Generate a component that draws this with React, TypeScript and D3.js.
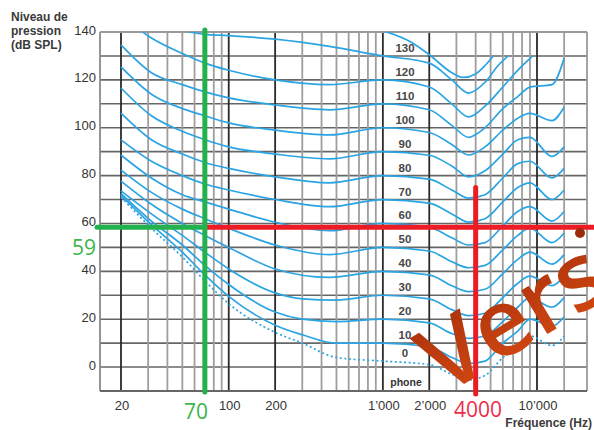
import React from 'react';
import * as d3 from 'd3';

const W = 594;
const H = 430;

// Frequency grid (Hz)
const majorFreqs = [20, 100, 200, 1000, 2000, 10000];
const minorFreqs = [30, 40, 50, 60, 70, 80, 90, 300, 400, 500, 600, 700, 800, 900, 3000, 4000, 5000, 6000, 7000, 8000, 9000, 15000];
const freqTickValues = [20, 100, 200, 1000, 2000, 10000];
const freqTickLabels = ['20', '100', '200', '1’000', '2’000', '10’000'];

// Level grid (dB SPL)
const levelGrid = [-10, 0, 10, 20, 30, 40, 50, 60, 70, 80, 90, 100, 110, 120, 130, 140];
const levelTickValues = [0, 20, 40, 60, 80, 100, 120, 140];

// Equal-loudness contours: [frequency Hz, level dB SPL]
type Pt = [number, number];
const threshold: Pt[] = [[20, 71], [31.5, 58], [50, 46], [70, 36], [100, 26.5], [200, 14.5], [300, 10], [500, 4], [1000, 2.5], [2000, 1], [2800, -3], [3600, -5.4], [4600, -3.5], [6000, 4], [7500, 9], [9000, 13], [12500, 9], [15000, 13]];
const phon10: Pt[] = [[20, 71.8], [31.5, 59.5], [50, 48], [70, 38.5], [100, 29.5], [200, 17.5], [300, 13.5], [500, 10], [1000, 10], [2000, 8.5], [2800, 4], [3600, 1.5], [4600, 2.5], [6000, 10], [7500, 15], [9000, 20], [12500, 17], [15000, 21]];
const phon20: Pt[] = [[20, 72.5], [31.5, 61], [50, 51], [70, 42.5], [100, 34.5], [200, 23], [300, 20], [500, 19], [1000, 20], [2000, 18.5], [2800, 14], [3600, 12], [4600, 13], [6000, 19], [7500, 25], [9000, 29], [12500, 25], [15000, 29]];
const phon30: Pt[] = [[20, 73.6], [31.5, 64], [50, 55], [70, 48], [100, 41], [200, 31], [300, 28.5], [500, 28], [1000, 30], [2000, 28.5], [2800, 24], [3600, 21.5], [4600, 22.5], [6000, 29], [7500, 35], [9000, 38], [12500, 34], [15000, 38]];
const phon40: Pt[] = [[20, 77.7], [31.5, 68], [50, 60], [70, 55], [100, 50], [200, 41], [450, 37.5], [1000, 40], [2000, 38.5], [2800, 34], [3600, 31.5], [4600, 32.5], [6000, 39], [7500, 45], [9000, 48], [12500, 43], [15000, 47]];
const phon50: Pt[] = [[20, 82.3], [31.5, 73], [50, 66], [70, 62], [100, 58], [200, 51], [450, 47], [1000, 50], [2000, 48.5], [2800, 44], [3600, 41.5], [4600, 42.5], [6000, 49], [7500, 55], [9000, 58], [12500, 52], [15000, 56]];
const phon60: Pt[] = [[20, 88.6], [31.5, 79], [50, 72], [70, 69], [100, 66], [200, 60.5], [450, 57], [1000, 60], [2000, 58.5], [2800, 54], [3600, 51], [4600, 52], [6000, 59], [7500, 65], [9000, 67], [12500, 61], [15000, 65]];
const phon70: Pt[] = [[20, 94.9], [31.5, 86], [50, 80], [70, 76.5], [100, 74], [200, 70], [450, 67], [1000, 70], [2000, 68.5], [2800, 64], [3600, 60.6], [4600, 62], [6000, 69], [7500, 75], [9000, 77], [12500, 70], [15000, 74]];
const phon80: Pt[] = [[20, 106.1], [31.5, 95], [50, 89], [70, 85.5], [100, 83], [200, 79.5], [450, 77], [1000, 80], [2000, 78.5], [2800, 74], [3600, 70.6], [4600, 72], [6000, 79], [7500, 85], [9000, 86], [12500, 79], [15000, 83]];
const phon90: Pt[] = [[20, 116.6], [31.5, 105], [50, 98.5], [70, 95], [100, 92], [200, 89], [450, 87], [1000, 90], [2000, 88.5], [2800, 84], [3600, 79.5], [4600, 82], [6000, 89], [7500, 95], [9000, 96], [12500, 88], [15000, 92]];
const phon100: Pt[] = [[20, 125.4], [31.5, 114], [50, 108], [70, 105], [100, 102], [200, 99], [450, 97], [1000, 100], [2000, 98], [2800, 93], [3600, 88.6], [4600, 92], [6000, 99], [7500, 104], [9000, 106], [12500, 103], [15000, 108.6]];
const phon110: Pt[] = [[20, 134.6], [31.5, 123], [50, 118], [70, 115], [100, 112.5], [200, 109.5], [450, 107.5], [1000, 110], [2000, 107.5], [2800, 101], [3600, 96], [4600, 100], [6000, 108], [7500, 113], [9000, 117], [12500, 118], [15000, 129]];
const phon120: Pt[] = [[20, 147], [31.5, 137.5], [50, 131], [70, 127], [100, 124], [200, 120], [450, 118], [1000, 120], [2000, 117], [2800, 110], [3600, 104.5], [4600, 109], [6000, 117], [7500, 124], [9400, 130]];
const phon130: Pt[] = [[55, 140], [70, 139], [100, 138.5], [200, 137], [450, 134], [1000, 130], [2000, 127], [2800, 120], [3600, 114.5], [4600, 119], [5600, 126], [6500, 130]];
const phon140: Pt[] = [[1000, 140.5], [1500, 136], [2000, 130.5], [2800, 123], [3300, 121], [4000, 122.5], [4600, 126], [5200, 130]];

const solidContours = [phon10, phon20, phon30, phon40, phon50, phon60, phon70, phon80, phon90, phon100, phon110, phon120, phon130, phon140];
const contourLabels = ['0', '10', '20', '30', '40', '50', '60', '70', '80', '90', '100', '110', '120', '130'];
const labelledContours = [threshold, phon10, phon20, phon30, phon40, phon50, phon60, phon70, phon80, phon90, phon100, phon110, phon120, phon130];

// Reference readings drawn over the chart
const refLowFreq = 70;
const refHighFreq = 4000;
const refLevel = 59;
const refHighTop = 75;

const xScale = d3.scaleLog().domain([20, 10000]).range([121, 537]);
const yScale = d3.scaleLinear().domain([-10, 140]).range([391, 32]);

const plotLeft = 100;
const plotRight = 587;
const plotTop = yScale(140);
const plotBottom = yScale(-10);

const line = d3
  .line<Pt>()
  .x((d) => xScale(d[0]))
  .y((d) => yScale(d[1]))
  .curve(d3.curveMonotoneX);

const levelAt1k = (c: Pt[]) => {
  const p = c.find((d) => d[0] === 1000);
  return p ? p[1] : 0;
};

const numFont = '"Liberation Sans", Arial, sans-serif';

export default function App() {
  return (
    <svg width={W} height={H} style={{ position: 'absolute', left: 0, top: 0, background: '#fff' }}>
      <defs>
        <clipPath id="plot-area">
          <rect x={plotLeft} y={plotTop} width={plotRight - plotLeft} height={plotBottom - plotTop} />
        </clipPath>
        <linearGradient id="stamp" x1="0" y1="0" x2="0" y2="1">
          <stop offset="0" stopColor="#a22d0b" />
          <stop offset="1" stopColor="#d94c12" />
        </linearGradient>
      </defs>
      <rect x={0} y={0} width={W} height={H} fill="#fff" />

      {/* grid */}
      {levelGrid.map((v) => (
        <line key={'h' + v} x1={plotLeft} x2={plotRight} y1={yScale(v)} y2={yScale(v)} stroke="#666" strokeWidth={1.6} />
      ))}
      {minorFreqs.map((f) => (
        <line key={'m' + f} x1={xScale(f)} x2={xScale(f)} y1={plotTop} y2={plotBottom} stroke="#9e9e9e" strokeWidth={1.8} />
      ))}
      {majorFreqs.map((f) => (
        <line key={'M' + f} x1={xScale(f)} x2={xScale(f)} y1={plotTop} y2={plotBottom} stroke="#2a2a2a" strokeWidth={1.8} />
      ))}
      <line x1={plotLeft} x2={plotLeft} y1={plotTop} y2={plotBottom} stroke="#8a8a8a" strokeWidth={1.8} />
      <line x1={plotRight} x2={plotRight} y1={plotTop} y2={plotBottom} stroke="#9a9a9a" strokeWidth={1.8} />
      <line x1={plotLeft} x2={plotRight} y1={plotTop} y2={plotTop} stroke="#9a9a9a" strokeWidth={2} />
      <line x1={plotLeft} x2={plotRight} y1={plotBottom} y2={plotBottom} stroke="#666" strokeWidth={1.8} />

      {/* contours */}
      <g clipPath="url(#plot-area)" fill="none">
        {solidContours.map((c, i) => (
          <path key={i} d={line(c) || ''} stroke="#2ba4e3" strokeWidth={1.7} />
        ))}
        <path d={line(threshold) || ''} stroke="#2ba4e3" strokeWidth={1.7} strokeDasharray="2 2.6" />
      </g>

      {/* contour labels */}
      {labelledContours.map((c, i) => (
        <text key={'l' + i} x={405} y={yScale(levelAt1k(c)) - 8} textAnchor="middle" dominantBaseline="central" fontFamily={numFont} fontSize={11.5} fontWeight="bold" fill="#474747">
          {contourLabels[i]}
        </text>
      ))}
      <text x={406} y={382} textAnchor="middle" dominantBaseline="central" fontFamily={numFont} fontSize={10.5} fontWeight="bold" fill="#333">
        phone
      </text>

      {/* axes labels */}
      {levelTickValues.map((v) => (
        <text key={'y' + v} x={96} y={yScale(v) - 2} textAnchor="end" dominantBaseline="central" fontFamily={numFont} fontSize={13} fill="#333">
          {v}
        </text>
      ))}
      {freqTickValues.map((f, i) => (
        <text key={'x' + f} x={xScale(f) + 1} y={405} textAnchor="middle" dominantBaseline="central" fontFamily={numFont} fontSize={13} fill="#333">
          {freqTickLabels[i]}
        </text>
      ))}
      <g fontFamily={numFont} fontSize={12} fontWeight="bold" fill="#3a3a3a">
        <text x={11} y={21}>Niveau de</text>
        <text x={11} y={35}>pression</text>
        <text x={11} y={49}>(dB SPL)</text>
        <text x={592} y={427} textAnchor="end">Fréquence (Hz)</text>
      </g>

      {/* reference readings */}
      <g strokeLinecap="round" strokeWidth={5}>
        <line x1={xScale(refLowFreq)} x2={W + 10} y1={yScale(refLevel) + 1.5} y2={yScale(refLevel) + 1.5} stroke="#ed1c24" />
        <line x1={xScale(refHighFreq)} x2={xScale(refHighFreq)} y1={yScale(refHighTop)} y2={plotBottom + 3} stroke="#ed1c24" />
        <line x1={plotLeft - 3} x2={xScale(refLowFreq)} y1={yScale(refLevel) + 1.5} y2={yScale(refLevel) + 1.5} stroke="#22b14c" />
        <line x1={xScale(refLowFreq)} x2={xScale(refLowFreq)} y1={plotTop - 2} y2={plotBottom + 1} stroke="#22b14c" />
      </g>
      <g fontFamily='"Open Sans", sans-serif' fontSize={21}>
        <text x={84} y={247} textAnchor="middle" dominantBaseline="central" fill="#3cb54a">{refLevel}</text>
        <text x={196} y={411} textAnchor="middle" dominantBaseline="central" fill="#3cb54a">{refLowFreq}</text>
        <text x={478} y={409} textAnchor="middle" dominantBaseline="central" fill="#ef2b4a">{refHighFreq}</text>
      </g>
      <g transform="translate(444,396) rotate(-31)">
        <text fontFamily='"Open Sans", sans-serif' fontSize={94} fontWeight={600} fill="url(#stamp)">
          Vers
        </text>
      </g>
      <circle cx={580} cy={233} r={5} fill="#9c2b0a" />
    </svg>
  );
}
